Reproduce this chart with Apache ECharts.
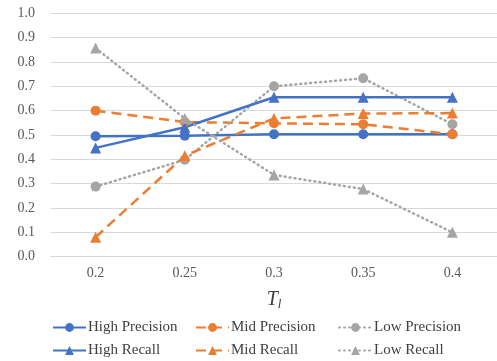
<!DOCTYPE html>
<html><head><meta charset="utf-8">
<script src="https://cdn.jsdelivr.net/npm/echarts@6/dist/echarts.min.js"></script>
<style>html,body{margin:0;padding:0;background:#fff}#c{width:497px;height:361px}</style>
</head><body><div id="c"></div>
<script>
const categories = ['0.2','0.25','0.3','0.35','0.4'];
const yTicks = [0,0.1,0.2,0.3,0.4,0.5,0.6,0.7,0.8,0.9,1.0];
const highPrecision = [0.495,0.497,0.503,0.503,0.503];
const highRecall = [0.447,0.532,0.655,0.655,0.655];
const midPrecision = [0.600,0.553,0.548,0.544,0.503];
const midRecall = [0.080,0.415,0.568,0.588,0.590];
const lowPrecision = [0.288,0.398,0.700,0.733,0.544];
const lowRecall = [0.857,0.568,0.336,0.278,0.100];

const BLUE='#4472C4', ORANGE='#ED7D31', GRAY='#A5A5A5';
const FONT='Liberation Serif';
function s(name,data,color,type,symbol){
  return {name,type:'line',data,symbol,symbolSize:symbol==='circle'?10:11,
    itemStyle:{color},
    lineStyle:{color,width:2.5,type,cap:Array.isArray(type)&&type[0]===1?'round':'butt'},
    animation:false};
}
const series=[
  s('High Precision',highPrecision,BLUE,'solid','circle'),
  s('Mid Precision',midPrecision,ORANGE,[10,6],'circle'),
  s('Low Precision',lowPrecision,GRAY,[1,4],'circle'),
  s('High Recall',highRecall,BLUE,'solid','triangle'),
  s('Mid Recall',midRecall,ORANGE,[10,6],'triangle'),
  s('Low Recall',lowRecall,GRAY,[1,4],'triangle')
];
const pos=[[52,320],[195,320],[338,320],[52,343],[195,343],[338,343]];
const legends=series.map((se,i)=>({data:[se.name],left:pos[i][0],top:pos[i][1],
  itemWidth:33,itemHeight:11,itemGap:0,padding:0,
  textStyle:{fontFamily:FONT,fontSize:15,color:'#404040',padding:[0,0,0,-3]}}));
const chart=echarts.init(document.getElementById('c'),null,{renderer:'canvas'});
chart.setOption({
  animation:false,
  grid:{left:51,top:13.3,width:450,height:243.4,containLabel:false},
  legend:legends,
  xAxis:{type:'category',data:categories,boundaryGap:true,
    axisLine:{show:true,lineStyle:{color:'#d9d9d9',width:1}},axisTick:{show:false},
    axisLabel:{fontFamily:FONT,fontSize:14,color:'#595959',margin:10},
    name:'{t|T}{l|l}',nameLocation:'middle',nameGap:33,
    nameTextStyle:{rich:{t:{fontFamily:FONT,fontStyle:'italic',fontSize:20,color:'#404040'},
      l:{fontFamily:FONT,fontStyle:'italic',fontSize:13,color:'#404040',verticalAlign:'bottom',padding:[8,0,0,0]}}}},
  yAxis:{type:'value',min:yTicks[0],max:yTicks[yTicks.length-1],interval:0.1,
    axisLine:{show:false},axisTick:{show:false},
    splitLine:{lineStyle:{color:'#d9d9d9',width:1}},
    axisLabel:{fontFamily:FONT,fontSize:14,color:'#595959',margin:16,formatter:v=>v.toFixed(1)}},
  series
});
</script></body></html>
